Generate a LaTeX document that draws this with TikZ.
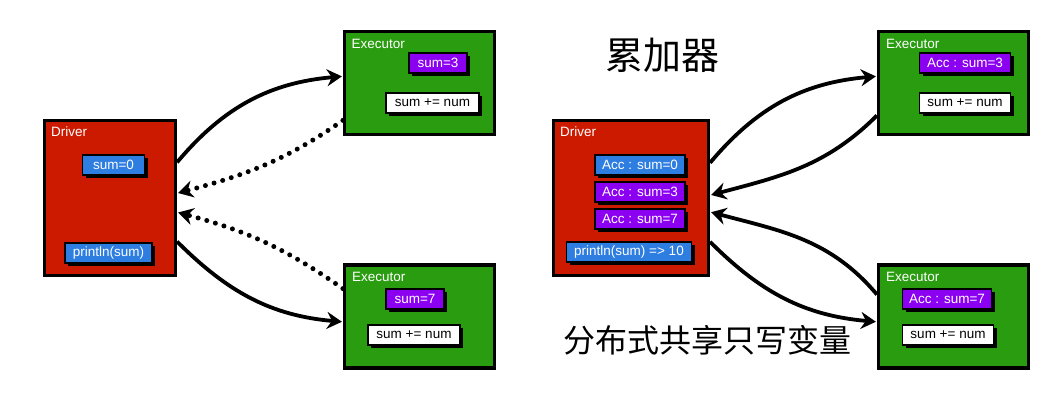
\documentclass[tikz,border=0pt]{standalone}
\usepackage{fontspec}
\setmainfont{Liberation Sans}
\newfontfamily\cjk{Noto Sans CJK SC}
\usetikzlibrary{arrows.meta,shadows}
\definecolor{drvred}{HTML}{CC1A00}
\definecolor{exgreen}{HTML}{2A9C10}
\definecolor{tagblue}{HTML}{2E7DE0}
\definecolor{tagpurple}{HTML}{8C00F2}
\begin{document}
\begin{tikzpicture}[x=1pt,y=1pt,
  panel/.style={draw=black, line width=3.2pt, inner sep=0pt},
  driverbox/.style={panel, fill=drvred, minimum width=131pt, minimum height=155pt},
  execbox/.style={panel, fill=exgreen, minimum width=150pt, minimum height=103pt},
  paneltitle/.style={anchor=base west, inner sep=0pt, text=white, font=\fontsize{13.5}{15}\selectfont},
  tag/.style={draw=black, line width=1.5pt, inner sep=0pt, minimum height=20pt,
    font=\fontsize{13.5}{15}\selectfont,
    drop shadow={shadow xshift=3pt, shadow yshift=-3pt, fill=black, opacity=1}},
  bluetag/.style={tag, fill=tagblue, text=white},
  purpletag/.style={tag, fill=tagpurple, text=white},
  whitetag/.style={tag, fill=white, text=black},
  flow/.style={line width=3.8pt, -{Stealth[length=15pt,width=17pt,inset=5pt]}, shorten >=1pt},
  dotflow/.style={flow, line width=5pt, dash pattern=on 0pt off 9pt, line cap=round},
  cjktitle/.style={inner sep=0pt, font=\cjk}
]
\useasboundingbox (0,0) rectangle (1060,401);

% ---------------- left half ----------------
\node[driverbox] (drvL) at (110,203) {};
\node[paneltitle] (drvLt) at (51,264) {Driver};
\node[bluetag, minimum width=62pt] (sumL0) at (113.5,236) {sum=0};
\node[bluetag, minimum width=87pt] (prnL) at (108.5,148) {println(sum)};

\node[execbox] (exLT) at (419.5,318) {};
\node[paneltitle] (exLTt) at (351.5,352) {Executor};
\node[purpletag, minimum width=58pt] (sumL3) at (438,338) {sum=3};
\node[whitetag, minimum width=93pt] (addLT) at (432.5,298) {sum += num};

\node[execbox] (exLB) at (419.5,84.5) {};
\node[paneltitle] (exLBt) at (352,119) {Executor};
\node[purpletag, minimum width=58pt] (sumL7) at (415,102) {sum=7};
\node[whitetag, minimum width=92pt] (addLB) at (414,66) {sum += num};

\draw[flow] (drvL.28) to[out=50,in=185] (exLT.175);
\draw[dotflow] (exLT.206) to[out=-145,in=15] (drvL.4);
\draw[dotflow] (exLB.160) to[out=145,in=-15] (drvL.-12);
\draw[flow] (drvL.-33) to[out=-45,in=175] (exLB.184);

% ---------------- right half ----------------
\node[cjktitle, font=\cjk\fontsize{38}{40}\selectfont] (tAcc) at (662,346) {累加器};
\node[cjktitle, font=\cjk\fontsize{32}{34}\selectfont] (tVar) at (707,61) {分布式共享只写变量};

\node[driverbox, minimum width=155pt] (drvR) at (631,203) {};
\node[paneltitle] (drvRt) at (560,264) {Driver};
\node[bluetag, minimum width=90pt] (accR0) at (640,236) {Acc : sum=0};
\node[purpletag, minimum width=90pt] (accR3) at (640,209) {Acc : sum=3};
\node[purpletag, minimum width=90pt] (accR7) at (640,182) {Acc : sum=7};
\node[bluetag, minimum width=125pt] (prnR) at (629,149) {println(sum) => 10};

\node[execbox] (exRT) at (953.5,318) {};
\node[paneltitle] (exRTt) at (886,352) {Executor};
\node[purpletag, minimum width=91pt] (accRT) at (965,338) {Acc : sum=3};
\node[whitetag, minimum width=91pt] (addRT) at (965,298) {sum += num};

\node[execbox] (exRB) at (953.5,84.5) {};
\node[paneltitle] (exRBt) at (886,119) {Executor};
\node[purpletag, minimum width=89pt] (accRB) at (947,102) {Acc : sum=7};
\node[whitetag, minimum width=91pt] (addRB) at (948,66) {sum += num};

\draw[flow] (drvR.24) to[out=50,in=185] (exRT.175);
\draw[flow] (exRT.203) to[out=-135,in=15] (drvR.2);
\draw[flow] (exRB.164) to[out=130,in=-15] (drvR.-10);
\draw[flow] (drvR.-29) to[out=-45,in=175] (exRB.184);
\end{tikzpicture}
\end{document}
